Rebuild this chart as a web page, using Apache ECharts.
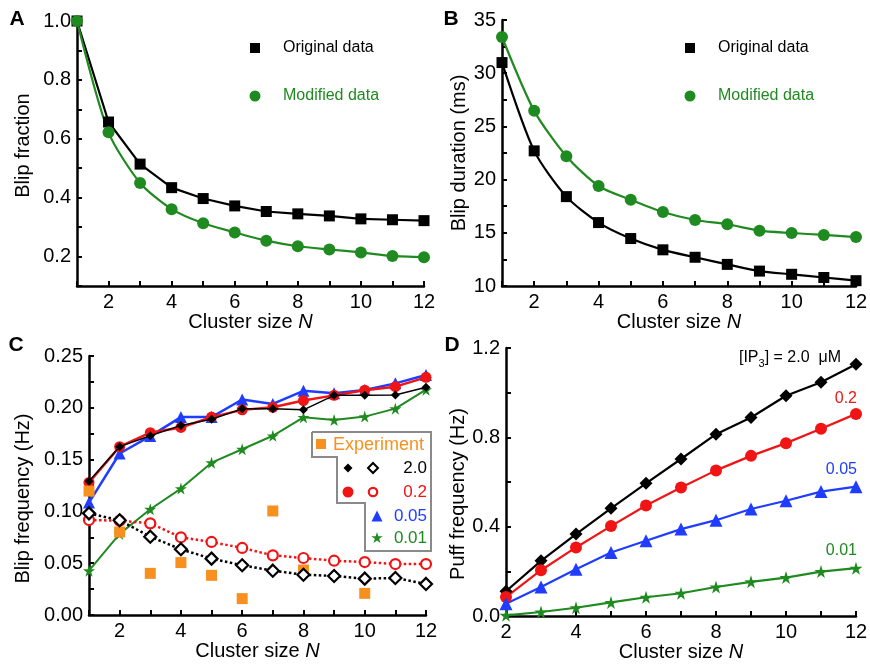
<!DOCTYPE html>
<html>
<head>
<meta charset="utf-8">
<script src="https://cdn.jsdelivr.net/npm/echarts@6/dist/echarts.min.js"></script>
<style>html,body{margin:0;padding:0;background:#fff}#c{width:870px;height:667px}</style>
</head>
<body>
<div id="c"></div>
<script>
// ---------- data ----------
const N_all = [1,2,3,4,5,6,7,8,9,10,11,12];
const N_D = [2,3,4,5,6,7,8,9,10,11,12];

// Panel A: blip fraction
const A_original = [1.0,0.657,0.514,0.434,0.397,0.372,0.353,0.345,0.338,0.328,0.325,0.322];
const A_modified = [1.0,0.622,0.450,0.361,0.313,0.282,0.254,0.235,0.224,0.214,0.202,0.198];

// Panel B: blip duration (ms)
const B_original = [31.0,22.7,18.4,15.96,14.46,13.4,12.7,12.03,11.4,11.1,10.8,10.5];
const B_modified = [33.4,26.46,22.2,19.4,18.1,16.95,16.2,15.8,15.2,14.98,14.8,14.6];

// Panel C: blip frequency (Hz)
const C_ip2_0 = [0.129,0.1625,0.173,0.183,0.189,0.199,0.199,0.198,0.212,0.212,0.2124,0.2198];
const C_ip0_2 = [0.128,0.1625,0.176,0.181,0.191,0.198,0.2005,0.207,0.212,0.217,0.2204,0.2294];
const C_ip0_05 = [0.1085,0.1559,0.1727,0.191,0.191,0.208,0.2037,0.2164,0.214,0.2172,0.2236,0.2317];
const C_ip0_01 = [0.0428,0.0783,0.1021,0.122,0.147,0.160,0.173,0.1908,0.1883,0.1915,0.1992,0.2175];
const C_open2_0 = [0.0981,0.0914,0.0756,0.0634,0.0544,0.048,0.0428,0.0389,0.0377,0.0351,0.0357,0.030];
const C_open0_2 = [0.0917,0.091,0.0885,0.075,0.0705,0.0647,0.0576,0.055,0.0524,0.0511,0.0492,0.0492];
const C_expN = [1,2,3,4,5,6,7,8,10];
const C_exp = [0.1196,0.0801,0.0402,0.0506,0.0383,0.0158,0.1004,0.0434,0.0209];

// Panel D: puff frequency (Hz)
const D_ip2_0 = [0.111,0.247,0.367,0.482,0.594,0.703,0.814,0.889,0.986,1.047,1.127];
const D_ip0_2 = [0.085,0.205,0.307,0.4025,0.495,0.575,0.652,0.717,0.774,0.838,0.905];
const D_ip0_05 = [0.055,0.130,0.2095,0.284,0.337,0.389,0.429,0.479,0.516,0.557,0.579];
const D_ip0_01 = [0.003,0.018,0.037,0.061,0.084,0.102,0.130,0.153,0.172,0.199,0.214];

// ---------- styles ----------
const FONT = '"Liberation Sans", Arial, Helvetica, sans-serif';
const GREEN = '#1f8a1f', RED = '#f01414', BLUE = '#1f3cff', ORANGE = '#f7901e', BLACK = '#000';
const STAR = 'path://M50,0 L61,35 L98,35 L68,57 L79,91 L50,70 L21,91 L32,57 L2,35 L39,35 Z';

const pairs = (xs, ys) => xs.map((x, i) => [x, ys[i]]);

function xAxis(gridIndex, min, nameGap) {
  return {
    type: 'value', gridIndex, min, max: 12, interval: 1,
    name: '{a|Cluster size }{i|N}', nameLocation: 'middle', nameGap,
    nameTextStyle: { rich: {
      a: { fontFamily: FONT, fontSize: 20, color: BLACK },
      i: { fontFamily: FONT, fontSize: 20, color: BLACK, fontStyle: 'italic' } } },
    axisLine: { lineStyle: { color: BLACK, width: 2.5 } },
    axisTick: { inside: true, length: 5, lineStyle: { color: BLACK, width: 2 } },
    axisLabel: { fontFamily: FONT, fontSize: 20, color: BLACK, margin: 6,
      formatter: v => (v % 2 === 0 ? String(v) : '') },
    splitLine: { show: false }
  };
}
function yAxis(gridIndex, min, max, interval, labelEvery, digits, name, nameGap, namePad) {
  return {
    type: 'value', gridIndex, min, max, interval,
    name, nameLocation: 'middle', nameGap,
    nameTextStyle: { fontFamily: FONT, fontSize: 20, color: BLACK, padding: namePad },
    axisLine: { show: true, lineStyle: { color: BLACK, width: 2.5 } },
    axisTick: { show: true, inside: true, length: 5, lineStyle: { color: BLACK, width: 2 } },
    axisLabel: { fontFamily: FONT, fontSize: 20, color: BLACK, margin: 6,
      formatter: v => {
        const k = Math.round(v / labelEvery * 1000) / 1000;
        return Math.abs(k - Math.round(k)) < 1e-6 ? v.toFixed(digits) : '';
      } },
    splitLine: { show: false }
  };
}
function line(name, xi, data, color, symbol, size, opts) {
  opts = opts || {};
  return {
    name, type: 'line', xAxisIndex: xi, yAxisIndex: xi, data,
    symbol, symbolSize: size, showAllSymbol: true,
    lineStyle: { color, width: opts.width || 2.2, type: opts.dash || 'solid' },
    itemStyle: opts.open ? { color: '#fff', borderColor: color, borderWidth: 2.2, opacity: 1 } : { color, borderWidth: 0, opacity: 1 },
    smooth: opts.smooth || false, animation: false, z: opts.z || 2
  };
}

const series = [
  // A
  line('Original data', 0, pairs(N_all, A_original), BLACK, 'rect', 11),
  line('Modified data', 0, pairs(N_all, A_modified), GREEN, 'circle', 12, { smooth: 0.25 }),
  // B
  line('Original data', 1, pairs(N_all, B_original), BLACK, 'rect', 11, { smooth: 0.25 }),
  line('Modified data', 1, pairs(N_all, B_modified), GREEN, 'circle', 12, { smooth: 0.25 }),
  // C
  line('0.01', 2, pairs(N_all, C_ip0_01), GREEN, STAR, 12, { width: 2 }),
  line('0.05', 2, pairs(N_all, C_ip0_05), BLUE, 'triangle', 12, { width: 2.5 }),
  line('0.2', 2, pairs(N_all, C_ip0_2), RED, 'circle', 11, { width: 2.5 }),
  line('2.0', 2, pairs(N_all, C_ip2_0), BLACK, 'diamond', 9, { width: 1.5, z: 3 }),
  { name: 'Experiment', type: 'scatter', xAxisIndex: 2, yAxisIndex: 2, data: pairs(C_expN, C_exp),
    symbol: 'rect', symbolSize: 11, itemStyle: { color: ORANGE, opacity: 1 }, animation: false, z: 3 },
  line('0.2 (open)', 2, pairs(N_all, C_open0_2), RED, 'circle', 10, { open: true, dash: 'dotted', width: 2.5, z: 4 }),
  line('2.0 (open)', 2, pairs(N_all, C_open2_0), BLACK, 'diamond', 12, { open: true, dash: 'dotted', width: 2.5, z: 4 }),
  // D
  line('[IP3] = 2.0 μM', 3, pairs(N_D, D_ip2_0), BLACK, 'diamond', 13, { width: 2.2 }),
  line('0.2 μM', 3, pairs(N_D, D_ip0_2), RED, 'circle', 12, { width: 2.2 }),
  line('0.05 μM', 3, pairs(N_D, D_ip0_05), BLUE, 'triangle', 13, { width: 2.2 }),
  line('0.01 μM', 3, pairs(N_D, D_ip0_01), GREEN, STAR, 13, { width: 2.2 })
];

function txt(x, y, text, color, size, align) {
  return { type: 'text', x, y, silent: true,
    style: { text, fill: color, fontFamily: FONT, fontSize: size, align: align || 'left', verticalAlign: 'middle' } };
}
function panelLabel(x, y, t) {
  return { type: 'text', x, y, silent: true,
    style: { text: t, fill: BLACK, fontFamily: FONT, fontSize: 21, fontWeight: 'bold', align: 'center', verticalAlign: 'middle' } };
}
// unit shapes in 0..100 box
const DIAMOND_PTS = [[50,0],[100,50],[50,100],[0,50]];
const TRI_PTS = [[50,0],[100,100],[0,100]];
const STAR_PTS = [[50,0],[61,35],[98,35],[68,57],[79,91],[50,70],[21,91],[32,57],[2,35],[39,35]];
function legendPoly(cx, cy, pts, size, fill, stroke) {
  const p = pts.map(([a, b]) => [cx - size / 2 + a * size / 100, cy - size / 2 + b * size / 100]);
  return { type: 'polygon', silent: true, shape: { points: p },
    style: { fill: fill, stroke: stroke || null, lineWidth: stroke ? 2 : 0 } };
}

const graphic = [
  panelLabel(17, 19, 'A'), panelLabel(451, 19, 'B'), panelLabel(16, 345, 'C'), panelLabel(452, 345, 'D'),
  // A legend
  { type: 'rect', shape: { x: 250, y: 43, width: 10, height: 10 }, style: { fill: BLACK }, silent: true },
  txt(283, 48, 'Original data', BLACK, 16),
  { type: 'circle', shape: { cx: 255, cy: 96, r: 5.5 }, style: { fill: GREEN }, silent: true },
  txt(283, 96, 'Modified data', GREEN, 16),
  // B legend
  { type: 'rect', shape: { x: 685, y: 43, width: 10, height: 10 }, style: { fill: BLACK }, silent: true },
  txt(718, 48, 'Original data', BLACK, 16),
  { type: 'circle', shape: { cx: 690, cy: 96, r: 5.5 }, style: { fill: GREEN }, silent: true },
  txt(718, 96, 'Modified data', GREEN, 16),
  // C legend box
  { type: 'polyline', silent: true, shape: { points: [[312,432],[431,432],[431,551],[365,551],[365,503],[337,503],[337,457],[312,457],[312,432]] },
    style: { stroke: '#8a8a8a', lineWidth: 2, fill: null } },
  { type: 'rect', shape: { x: 316, y: 439, width: 10, height: 10 }, style: { fill: ORANGE }, silent: true },
  txt(333, 445, 'Experiment', ORANGE, 18),
  legendPoly(348, 468, DIAMOND_PTS, 9, BLACK),
  legendPoly(373, 468, DIAMOND_PTS, 10, '#fff', BLACK),
  txt(427, 468, '2.0', BLACK, 17, 'right'),
  { type: 'circle', shape: { cx: 348, cy: 492, r: 5.5 }, style: { fill: RED }, silent: true },
  { type: 'circle', shape: { cx: 373, cy: 492, r: 4.2 }, style: { fill: '#fff', stroke: RED, lineWidth: 2.2 }, silent: true },
  txt(427, 492, '0.2', RED, 17, 'right'),
  legendPoly(377, 516, TRI_PTS, 11, BLUE),
  txt(427, 516, '0.05', BLUE, 17, 'right'),
  legendPoly(377, 538, STAR_PTS, 12, GREEN),
  txt(427, 538, '0.01', GREEN, 17, 'right'),
  // D labels
  { type: 'text', x: 841, y: 358, silent: true,
    style: { text: '{a|[IP}{s|3}{a|] = 2.0  μM}', align: 'right', verticalAlign: 'middle',
      rich: { a: { fontFamily: FONT, fontSize: 16, fill: BLACK },
              s: { fontFamily: FONT, fontSize: 11, fill: BLACK, padding: [12, 0, 0, 0] } } } },
  txt(857, 399, '0.2', RED, 16, 'right'),
  txt(857, 470, '0.05', BLUE, 16, 'right'),
  txt(857, 551, '0.01', GREEN, 16, 'right')
];

const option = {
  backgroundColor: '#fff',
  animation: false,
  grid: [
    { left: 77, right: 446, top: 21, bottom: 381, outerBoundsMode: 'none', containLabel: false },
    { left: 502, right: 14, top: 20, bottom: 381, outerBoundsMode: 'none', containLabel: false },
    { left: 89, right: 444, top: 356, bottom: 52, outerBoundsMode: 'none', containLabel: false },
    { left: 506, right: 14, top: 348, bottom: 51, outerBoundsMode: 'none', containLabel: false }
  ],
  xAxis: [ xAxis(0, 1, 22), xAxis(1, 1, 22), xAxis(2, 1, 25), xAxis(3, 2, 25) ],
  yAxis: [
    yAxis(0, 0.1, 1.0, 0.1, 0.2, 1, 'Blip fraction', 44, [0, 0, 0, 16]),
    yAxis(1, 10, 35, 2.5, 5, 0, 'Blip duration (ms)', 33, [0, 0, 0, 0]),
    yAxis(2, 0, 0.25, 0.025, 0.05, 2, 'Blip frequency (Hz)', 56, [0, 26, 0, 0]),
    yAxis(3, 0, 1.2, 0.2, 0.4, 1, 'Puff frequency (Hz)', 38, [0, 24, 0, 0])
  ],
  series,
  graphic
};
const chart = echarts.init(document.getElementById('c'), null, { renderer: 'canvas' });
chart.setOption(option);
</script>
</body>
</html>
